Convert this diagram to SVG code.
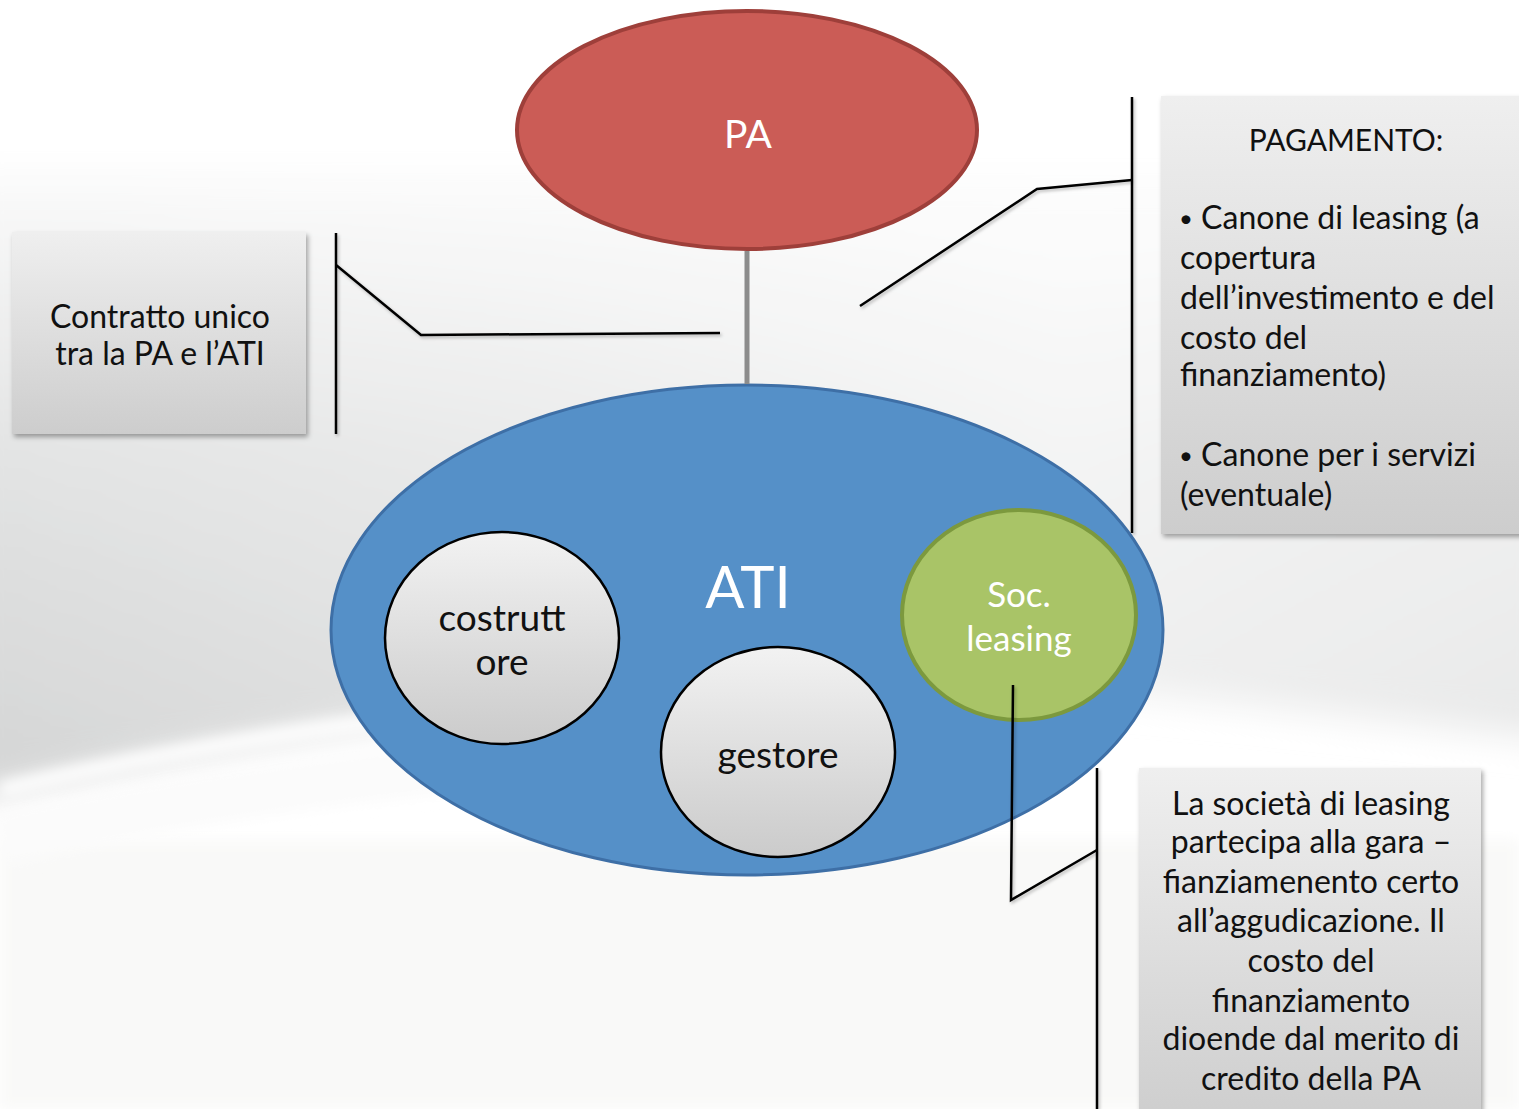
<svg xmlns="http://www.w3.org/2000/svg" width="1519" height="1109" viewBox="0 0 1519 1109">
  <style>
    .lbl { font-family: Lato, "Open Sans", "Liberation Sans", sans-serif; }
    .dark { fill: #111111; font-size: 32px; }
    .inner { font-size: 37px; }
    .title { font-size: 30px; }
    .bullet { font-size: 24px; }
    .box { fill: url(#boxGrad); filter: url(#shadow); }
    .conn { fill: none; stroke: #000000; stroke-width: 2.5; stroke-linejoin: miter; }
    .member { fill: url(#memberGrad); stroke: #000000; stroke-width: 2.5; }
  </style>
  <defs>
    <linearGradient id="bandV" x1="0" y1="170" x2="0" y2="790" gradientUnits="userSpaceOnUse">
      <stop offset="0" stop-color="#fbfbfb"/>
      <stop offset="0.45" stop-color="#e3e4e4"/>
      <stop offset="1" stop-color="#d4d5d5"/>
    </linearGradient>
    <linearGradient id="bandH" x1="0" y1="0" x2="1519" y2="0" gradientUnits="userSpaceOnUse">
      <stop offset="0" stop-color="#ffffff" stop-opacity="0"/>
      <stop offset="0.35" stop-color="#ffffff" stop-opacity="0.25"/>
      <stop offset="0.7" stop-color="#ffffff" stop-opacity="0.6"/>
      <stop offset="1" stop-color="#ffffff" stop-opacity="0.45"/>
    </linearGradient>
    <linearGradient id="boxGrad" x1="0" y1="0" x2="0" y2="1">
      <stop offset="0" stop-color="#efefef"/>
      <stop offset="1" stop-color="#cdcdcd"/>
    </linearGradient>
    <linearGradient id="memberGrad" x1="0" y1="0" x2="0" y2="1">
      <stop offset="0" stop-color="#f2f2f2"/>
      <stop offset="1" stop-color="#cbcbcb"/>
    </linearGradient>
    <filter id="shadow" x="-10%" y="-10%" width="125%" height="125%">
      <feDropShadow dx="2" dy="3" stdDeviation="2.5" flood-color="#000000" flood-opacity="0.35"/>
    </filter>
    <filter id="soft" x="-20%" y="-50%" width="140%" height="200%">
      <feGaussianBlur stdDeviation="7"/>
    </filter>
    <filter id="softer" x="-10%" y="-20%" width="120%" height="140%">
      <feGaussianBlur stdDeviation="18"/>
    </filter>
    <filter id="lineShadow" x="-10%" y="-10%" width="130%" height="130%">
      <feDropShadow dx="1.5" dy="2" stdDeviation="1.5" flood-color="#000000" flood-opacity="0.25"/>
    </filter>
  </defs>

  <!-- backdrop: pale sweep across the slide -->
  <rect x="0" y="0" width="1519" height="1109" fill="#ffffff"/>
  <g filter="url(#softer)">
    <path d="M-40,170 H1560 V740 C1200,700 900,660 640,690 C420,712 200,750 -40,800 Z" fill="url(#bandV)"/>
    <path d="M-40,170 H1560 V740 C1200,700 900,660 640,690 C420,712 200,750 -40,800 Z" fill="url(#bandH)"/>
  </g>
  <rect x="0" y="840" width="1519" height="269" fill="#f9f9f8" filter="url(#soft)"/>
  <path d="M0,790 C200,742 420,708 720,688" fill="none" stroke="#ffffff" stroke-width="14" filter="url(#soft)"/>
  <path d="M0,840 C200,795 420,765 720,745" fill="none" stroke="#fbfbfb" stroke-width="50" filter="url(#soft)"/>

  <!-- PA -->
  <g id="node-pa">
    <ellipse cx="747" cy="130" rx="230" ry="119" fill="#cb5c56" stroke="#9e3f3a" stroke-width="4"/>
    <text class="lbl" x="748" y="148" text-anchor="middle" fill="#ffffff" font-size="39">PA</text>
  </g>

  <!-- ATI -->
  <g id="node-ati">
    <ellipse cx="747" cy="630" rx="416" ry="245" fill="#5590c8" stroke="#3e6fa6" stroke-width="3"/>
    <text class="lbl" x="748" y="608" text-anchor="middle" fill="#ffffff" font-size="58">ATI</text>
  </g>

  <!-- partners -->
  <g id="node-costruttore">
    <ellipse class="member" cx="502" cy="638" rx="117" ry="106"/>
    <text class="lbl dark inner" x="502" y="631" text-anchor="middle">costrutt</text>
    <text class="lbl dark inner" x="502" y="675" text-anchor="middle">ore</text>
  </g>
  <g id="node-gestore">
    <ellipse class="member" cx="778" cy="752" rx="117" ry="105"/>
    <text class="lbl dark inner" x="778" y="768" text-anchor="middle">gestore</text>
  </g>
  <g id="node-leasing">
    <ellipse cx="1019" cy="615" rx="117" ry="105" fill="#a9c467" stroke="#7c993e" stroke-width="4"/>
    <text class="lbl" x="1019" y="607" text-anchor="middle" fill="#ffffff" font-size="35">Soc.</text>
    <text class="lbl" x="1019" y="651" text-anchor="middle" fill="#ffffff" font-size="35">leasing</text>
  </g>

  <!-- connectors -->
  <g id="connectors">
    <line x1="747" y1="251" x2="747" y2="384" stroke="#8c8c8c" stroke-width="5"/>
    <g filter="url(#lineShadow)">
      <line class="conn" x1="336" y1="233" x2="336" y2="434"/>
      <polyline class="conn" points="336,265 421,335 720,333"/>
      <line class="conn" x1="1132" y1="97" x2="1132" y2="533"/>
      <polyline class="conn" points="1132,180 1037,189 860,306"/>
      <line class="conn" x1="1097" y1="768" x2="1097" y2="1109"/>
      <polyline class="conn" points="1013,685 1011,900 1097,850"/>
    </g>
  </g>

  <!-- callout: contract -->
  <g id="note-contratto">
    <rect class="box" x="12" y="232" width="294" height="202"/>
    <text class="lbl dark" x="160" y="328" text-anchor="middle">Contratto unico</text>
    <text class="lbl dark" x="160" y="365" text-anchor="middle">tra la PA e l’ATI</text>
  </g>

  <!-- callout: payment -->
  <g id="note-pagamento">
    <rect class="box" x="1161" y="96" width="370" height="438"/>
    <text class="lbl dark title" x="1346" y="151" text-anchor="middle">PAGAMENTO:</text>
    <text class="lbl dark" x="1179" y="229"><tspan class="bullet" dy="-2">•</tspan><tspan dy="2"> Canone di leasing (a</tspan></text>
    <text class="lbl dark" x="1180" y="269">copertura</text>
    <text class="lbl dark" x="1180" y="309">dell’investimento e del</text>
    <text class="lbl dark" x="1180" y="349">costo del</text>
    <text class="lbl dark" x="1180" y="386">finanziamento)</text>
    <text class="lbl dark" x="1179" y="466"><tspan class="bullet" dy="-2">•</tspan><tspan dy="2"> Canone per i servizi</tspan></text>
    <text class="lbl dark" x="1180" y="506">(eventuale)</text>
  </g>

  <!-- callout: leasing company -->
  <g id="note-leasing">
    <rect class="box" x="1139" y="768" width="342" height="360"/>
    <text class="lbl dark" x="1311" y="815" text-anchor="middle">La società di leasing</text>
    <text class="lbl dark" x="1311" y="853" text-anchor="middle">partecipa alla gara –</text>
    <text class="lbl dark" x="1311" y="893" text-anchor="middle">fianziamenento certo</text>
    <text class="lbl dark" x="1311" y="932" text-anchor="middle">all’aggudicazione. Il</text>
    <text class="lbl dark" x="1311" y="972" text-anchor="middle">costo del</text>
    <text class="lbl dark" x="1311" y="1012" text-anchor="middle">finanziamento</text>
    <text class="lbl dark" x="1311" y="1050" text-anchor="middle">dioende dal merito di</text>
    <text class="lbl dark" x="1311" y="1090" text-anchor="middle">credito della PA</text>
  </g>
</svg>
